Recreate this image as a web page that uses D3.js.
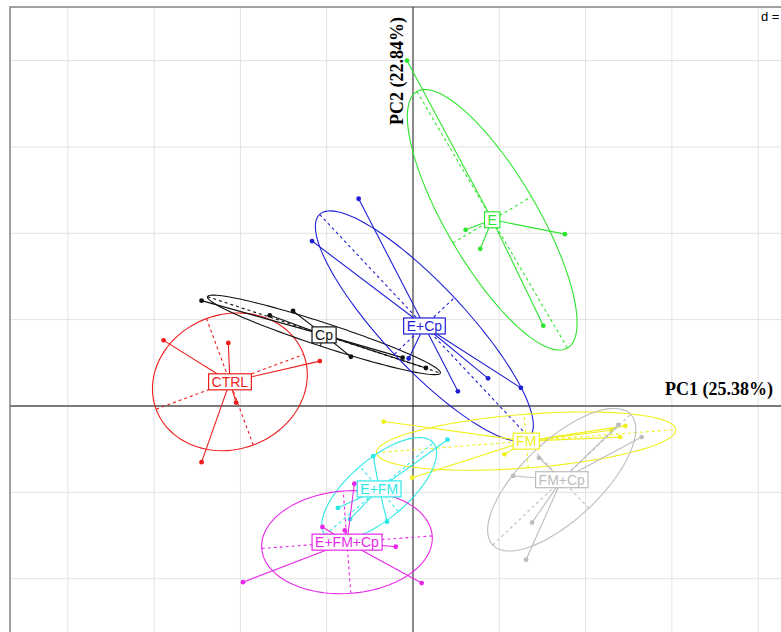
<!DOCTYPE html>
<html>
<head>
<meta charset="utf-8">
<script src="https://cdn.jsdelivr.net/npm/d3@7"></script>
<style>
  html, body { margin: 0; padding: 0; background: #fff; }
  svg { display: block; }
</style>
</head>
<body>
<svg id="chart" width="781" height="632"></svg>
<script>
// Group names, colours and sample scores on the first two principal components
const groups = ["CTRL", "Cp", "E", "E+Cp", "FM", "FM+Cp", "E+FM", "E+FM+Cp"];
const colors = ["#ee1c1c", "#111111", "#2ee62e", "#1f1fd6", "#f0f020", "#bdbdbd", "#2ee8e8", "#e828e8"];

const pc1 = [
  [-2.89, -2.14, -1.08, -2.05, -2.45],
  [-2.45, -1.66, -1.39, -0.72, -0.12, 0.15],
  [-0.07, 0.61, 0.78, 1.76, 1.51],
  [-0.63, -1.17, -0.05, 0.52, 0.87, 1.25],
  [-0.34, -0.01, 1.06, 2.30, 2.46, 2.40],
  [2.65, 1.46, 1.16, 1.38, 1.31, 2.38],
  [-0.46, 0.40, -0.87, -0.73, -0.30],
  [-0.68, -1.05, -0.79, -0.20, -1.97, 0.10]
];
const pc2 = [
  [0.76, 0.73, 0.52, 0.04, -0.65],
  [1.22, 1.05, 1.10, 0.57, 0.56, 0.44],
  [4.00, 2.04, 1.82, 1.99, 0.93],
  [2.40, 1.91, 0.55, 0.17, 0.32, 0.21],
  [-0.18, -0.83, -0.56, -0.28, -0.23, -0.36],
  [-0.36, -0.60, -0.81, -1.35, -1.78, -0.22],
  [-0.58, -0.39, -1.18, -1.31, -1.34],
  [-0.90, -1.40, -1.44, -1.63, -2.04, -2.05]
];

const axisLabelX = "PC1 (25.38%)";
const axisLabelY = "PC2 (22.84%)";
const gridStep = 1;
const ellipseSize = 1.5;

const svg = d3.select("#chart");

// Equal-scale plot window
const x = d3.scaleLinear().domain([-4.67, 4.67]).range([10, 816]);
const y = d3.scaleLinear().domain([-4.62, 4.62]).range([805, 7]);

const plot = svg.append("g");

// Background grid
const xTicks = d3.range(-4, 5, gridStep);
const yTicks = d3.range(-4, 5, gridStep);
plot.selectAll("line.gx").data(xTicks).join("line")
  .attr("x1", d => x(d)).attr("x2", d => x(d))
  .attr("y1", y(4.62)).attr("y2", y(-4.62))
  .attr("stroke", "#e2e2e2").attr("stroke-width", 1);
plot.selectAll("line.gy").data(yTicks).join("line")
  .attr("y1", d => y(d)).attr("y2", d => y(d))
  .attr("x1", x(-4.67)).attr("x2", x(4.67))
  .attr("stroke", "#e2e2e2").attr("stroke-width", 1);

// Plot frame
plot.append("rect")
  .attr("x", x(-4.67)).attr("y", y(4.62))
  .attr("width", x(4.67) - x(-4.67)).attr("height", y(-4.62) - y(4.62))
  .attr("fill", "none").attr("stroke", "#8a8a8a").attr("stroke-width", 1.6);

// Axes through the origin
plot.append("line")
  .attr("x1", x(-4.67)).attr("x2", x(4.67)).attr("y1", y(0)).attr("y2", y(0))
  .attr("stroke", "#7a7a7a").attr("stroke-width", 2);
plot.append("line")
  .attr("x1", x(0)).attr("x2", x(0)).attr("y1", y(4.62)).attr("y2", y(-4.62))
  .attr("stroke", "#222").attr("stroke-width", 1);

// Scale box in the corner
const dBox = svg.append("g");
dBox.append("rect").attr("x", 759).attr("y", 8).attr("width", 40).attr("height", 18).attr("fill", "#fff");
dBox.append("text").attr("x", 761).attr("y", 21)
  .attr("font-family", "Liberation Sans, Arial, sans-serif").attr("font-size", 13)
  .attr("fill", "#000").text("d = 1");

// Axis titles
svg.append("text")
  .attr("x", 773).attr("y", 395)
  .attr("text-anchor", "end")
  .attr("font-family", "Liberation Serif, 'Times New Roman', serif")
  .attr("font-weight", "bold").attr("font-size", 18)
  .text(axisLabelX);
svg.append("text")
  .attr("transform", "translate(403,17) rotate(-90)")
  .attr("text-anchor", "end")
  .attr("font-family", "Liberation Serif, 'Times New Roman', serif")
  .attr("font-weight", "bold").attr("font-size", 18)
  .text(axisLabelY);

// Per-group statistics: centroid and covariance ellipse
function groupStats(xs, ys) {
  const n = xs.length;
  const mx = d3.mean(xs), my = d3.mean(ys);
  let vx = 0, vy = 0, cxy = 0;
  for (let i = 0; i < n; i++) {
    vx += (xs[i] - mx) ** 2;
    vy += (ys[i] - my) ** 2;
    cxy += (xs[i] - mx) * (ys[i] - my);
  }
  vx /= n; vy /= n; cxy /= n;
  const tr = vx + vy, det = vx * vy - cxy * cxy;
  const disc = Math.sqrt(Math.max(0, tr * tr / 4 - det));
  const l1 = tr / 2 + disc, l2 = Math.max(0, tr / 2 - disc);
  let u1;
  if (Math.abs(cxy) > 1e-12) {
    const vxv = l1 - vy, vyv = cxy;
    const len = Math.hypot(vxv, vyv);
    u1 = [vxv / len, vyv / len];
  } else {
    u1 = vx >= vy ? [1, 0] : [0, 1];
  }
  const u2 = [-u1[1], u1[0]];
  return { mx, my, a: ellipseSize * Math.sqrt(l1), b: ellipseSize * Math.sqrt(l2), u1, u2 };
}

const line = d3.line().x(d => x(d[0])).y(d => y(d[1]));
const stats = groups.map((g, i) => groupStats(pc1[i], pc2[i]));

groups.forEach((g, i) => {
  const s = stats[i];
  const col = colors[i];
  const gg = plot.append("g");

  // ellipse outline
  const pts = d3.range(0, 361, 3).map(t => {
    const r = t * Math.PI / 180;
    return [
      s.mx + Math.cos(r) * s.a * s.u1[0] + Math.sin(r) * s.b * s.u2[0],
      s.my + Math.cos(r) * s.a * s.u1[1] + Math.sin(r) * s.b * s.u2[1]
    ];
  });
  gg.append("path").attr("d", line(pts))
    .attr("fill", "none").attr("stroke", col).attr("stroke-width", 1.1);

  // dashed ellipse axes
  [[s.a, s.u1], [s.b, s.u2]].forEach(([len, u]) => {
    gg.append("path")
      .attr("d", line([[s.mx - len * u[0], s.my - len * u[1]], [s.mx + len * u[0], s.my + len * u[1]]]))
      .attr("stroke", col).attr("stroke-width", 1.1).attr("stroke-dasharray", "3,3").attr("fill", "none");
  });

  // star from centroid to each sample
  const samples = pc1[i].map((v, k) => [v, pc2[i][k]]);
  gg.selectAll("path.star").data(samples).join("path")
    .attr("d", d => line([[s.mx, s.my], d]))
    .attr("stroke", col).attr("stroke-width", 1.1).attr("fill", "none");

  gg.selectAll("circle").data(samples).join("circle")
    .attr("cx", d => x(d[0])).attr("cy", d => y(d[1])).attr("r", 2.4)
    .attr("fill", col);
});

// Group labels at the centroids
groups.forEach((g, i) => {
  const s = stats[i];
  const lg = svg.append("g").attr("transform", `translate(${x(s.mx)},${y(s.my)})`);
  const t = lg.append("text")
    .attr("text-anchor", "middle").attr("dy", "0.36em")
    .attr("font-family", "Liberation Sans, Arial, sans-serif").attr("font-size", 14)
    .attr("fill", colors[i]).text(g);
  const bb = t.node().getBBox();
  lg.insert("rect", "text")
    .attr("x", bb.x - 3).attr("y", -8)
    .attr("width", bb.width + 6).attr("height", 16)
    .attr("fill", "#fff").attr("stroke", colors[i]).attr("stroke-width", 1.2);
});
</script>
</body>
</html>
